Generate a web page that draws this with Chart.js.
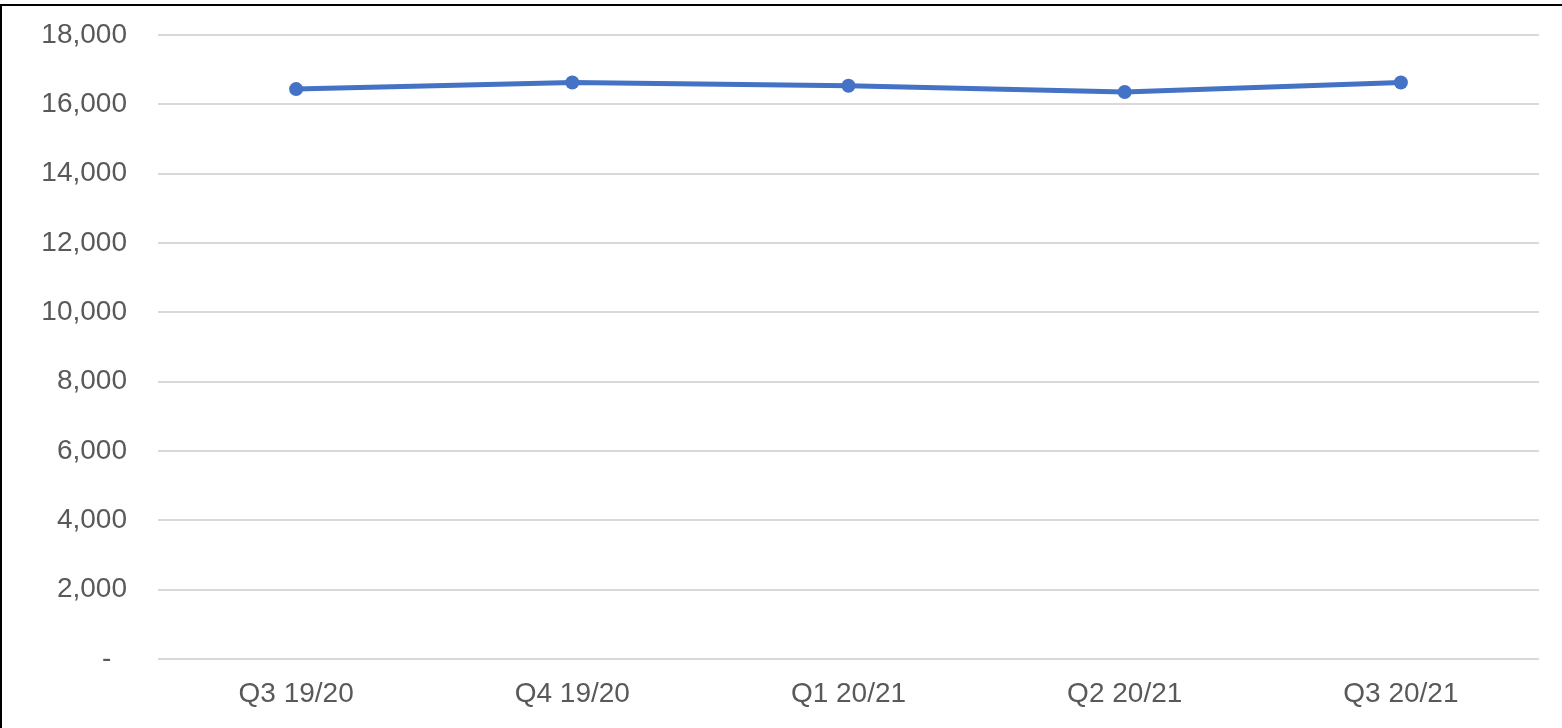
<!DOCTYPE html>
<html lang="en">
<head>
    <meta charset="UTF-8">
    <title>Quarterly count</title>
    <script src="https://cdn.jsdelivr.net/npm/chart.js"></script>
    <style>
        html, body {
            margin: 0;
            padding: 0;
            background: #ffffff;
        }

        #wrap {
            position: relative;
            width: 1562px;
            height: 728px;
        }

        #frame {
            position: absolute;
            top: 4px;
            left: 0;
            right: 0;
            bottom: 0;
            border-top: 2px solid #000;
            border-left: 2px solid #000;
            pointer-events: none;
        }
    </style>
</head>
<body>
    <div id="wrap">
        <canvas id="lineChart" width="1562" height="728"></canvas>
        <div id="frame"></div>
    </div>

    <script>
        // data
        const quarters = ["Q3 19/20", "Q4 19/20", "Q1 20/21", "Q2 20/21", "Q3 20/21"];
        const counts = [16440, 16630, 16535, 16355, 16630];
        const yMax = 18000;
        const yStep = 2000;

        const textColor = "#595959";
        const lineColor = "#4472C4";

        const ctx = document.getElementById("lineChart").getContext("2d");

        new Chart(ctx, {
            type: "line",
            data: {
                labels: quarters,
                datasets: [{
                    label: "Count",
                    data: counts,
                    borderColor: lineColor,
                    backgroundColor: lineColor,
                    borderWidth: 5,
                    pointRadius: 7,
                    pointHoverRadius: 7,
                    pointBorderWidth: 0,
                    tension: 0,
                    fill: false
                }]
            },
            options: {
                responsive: false,
                animation: false,
                layout: {
                    padding: { top: 35, right: 23, bottom: 0, left: 0 }
                },
                plugins: {
                    legend: { display: false },
                    tooltip: { enabled: false }
                },
                scales: {
                    x: {
                        offset: true,
                        grid: { display: false, drawTicks: false },
                        border: { display: false },
                        ticks: {
                            color: textColor,
                            font: { family: "'Liberation Sans', Arial, sans-serif", size: 28 },
                            padding: 18,
                            maxRotation: 0
                        },
                        afterFit: (scale) => {
                            scale.height = 69;
                            scale.paddingLeft = 0;
                            scale.paddingRight = 0;
                        }
                    },
                    y: {
                        min: 0,
                        max: yMax,
                        grid: {
                            color: "#d9d9d9",
                            lineWidth: 2,
                            drawTicks: false
                        },
                        border: { display: false },
                        ticks: {
                            stepSize: yStep,
                            color: textColor,
                            font: { family: "'Liberation Sans', Arial, sans-serif", size: 28 },
                            padding: 31,
                            callback: (v) => v === 0 ? "-  " : v.toLocaleString("en-US")
                        },
                        afterFit: (scale) => {
                            scale.width = 158;
                            scale.paddingTop = 0;
                            scale.paddingBottom = 0;
                        }
                    }
                }
            }
        });
    </script>
</body>
</html>
